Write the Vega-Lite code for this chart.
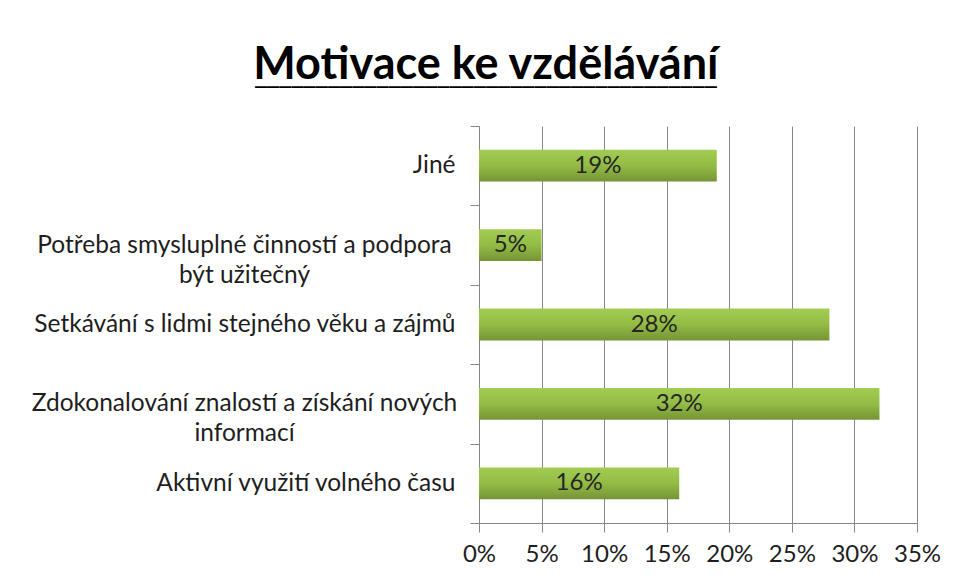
{
  "$schema": "https://vega.github.io/schema/vega-lite/v6.json",
  "width": 438,
  "height": 397,
  "autosize": {"type": "none"},
  "padding": {"left": 479, "top": 126, "right": 39, "bottom": 62},
  "background": "white",
  "title": {
    "text": "Motivace ke vzdělávání",
    "subtitle": "______________________________________",
    "anchor": "middle",
    "frame": "bounds",
    "font": "Lato",
    "fontSize": 45,
    "fontWeight": "bold",
    "color": "#000000",
    "subtitleFont": "DejaVu Sans Mono",
    "subtitleFontSize": 20.2,
    "subtitleFontWeight": "bold",
    "subtitleColor": "#000000",
    "subtitlePadding": -21,
    "offset": 25
  },
  "data": {
    "values": [
      {"kategorie": "Jiné", "podil": 0.19},
      {"kategorie": "Potřeba smysluplné činností a podpora|být užitečný", "podil": 0.05},
      {"kategorie": "Setkávání s lidmi stejného věku a zájmů", "podil": 0.28},
      {"kategorie": "Zdokonalování znalostí a získání nových|informací", "podil": 0.32},
      {"kategorie": "Aktivní využití volného času", "podil": 0.16}
    ]
  },
  "encoding": {
    "y": {
      "field": "kategorie",
      "type": "nominal",
      "sort": null,
      "scale": {"paddingInner": 0, "paddingOuter": 0},
      "axis": {
        "title": null,
        "labelExpr": "!isString(datum.value) ? '' : (indexof(datum.value, '|') >= 0 ? split(datum.value, '|') : datum.value)",
        "labelFont": "Lato",
        "labelFontSize": 24.5,
        "labelColor": "#1e1e1e",
        "labelLineHeight": 30,
        "labelLimit": 600,
        "labelOverlap": false,
        "labelAlign": {"condition": {"test": "isString(datum.value) && indexof(datum.value, '|') >= 0", "value": "center"}, "value": "right"},
        "labelPadding": {"condition": {"test": "isString(datum.value) && indexof(datum.value, '|') >= 0", "value": 226}, "value": 15},
        "tickBand": "extent",
        "tickSize": 9,
        "tickColor": "#878787",
        "domainColor": "#878787",
        "grid": false
      }
    }
  },
  "layer": [
    {
      "mark": {
        "type": "bar",
        "height": {"band": 0.4},
        "color": {
          "gradient": "linear",
          "x1": 0, "y1": 0, "x2": 0, "y2": 1,
          "stops": [
            {"offset": 0, "color": "#a3cc54"},
            {"offset": 0.5, "color": "#93bc45"},
            {"offset": 1, "color": "#769436"}
          ]
        }
      },
      "encoding": {
        "x": {
          "field": "podil",
          "type": "quantitative",
          "scale": {"domain": [0, 0.35], "nice": false},
          "axis": {
            "title": null,
            "values": [0, 0.05, 0.1, 0.15, 0.2, 0.25, 0.3, 0.35],
            "format": ".0%",
            "labelFont": "Lato",
            "labelFontSize": 24,
            "labelColor": "#1e1e1e",
            "labelPadding": 10,
            "labelFlush": false,
            "tickSize": 9,
            "tickColor": "#878787",
            "domainColor": "#878787",
            "grid": true,
            "gridColor": "#878787"
          }
        }
      }
    },
    {
      "transform": [{"calculate": "datum.podil / 2", "as": "stred"}],
      "mark": {"type": "text", "font": "Lato", "fontSize": 24, "color": "#262626", "baseline": "middle", "align": "center"},
      "encoding": {
        "x": {"field": "stred", "type": "quantitative", "axis": {"title": null}},
        "text": {"field": "podil", "type": "quantitative", "format": ".0%"}
      }
    }
  ],
  "config": {"view": {"stroke": null}}
}
